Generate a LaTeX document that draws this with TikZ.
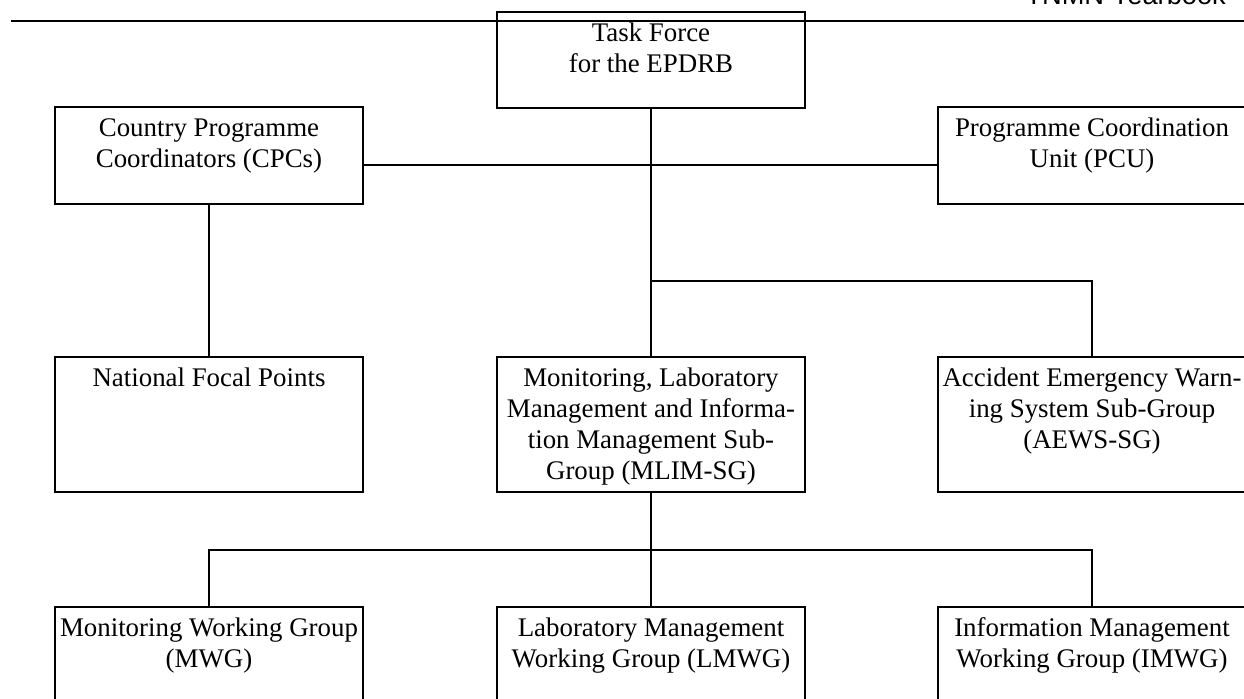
\documentclass[tikz,border=0pt]{standalone}
\usepackage{fontspec}
\setmainfont{Liberation Serif}
\newfontfamily\headfont{Liberation Sans}
\usepackage{tikz}
\newcommand{\unittext}[2]{\parbox[t][#1][t]{6.16cm}{\centering\rule{0pt}{0.59cm}#2}}
\tikzset{
    unit/.style={draw, line width=1.1pt, inner sep=0pt, outer sep=0pt, anchor=north,
        font=\fontsize{15.3pt}{17.6pt}\selectfont},
    link/.style={line width=1.1pt}
}

\begin{document}
\begin{tikzpicture}[x=0.02cm, y=-0.02cm]
            \useasboundingbox (0,0) rectangle (1244,698);
            \node[anchor=base east, font=\headfont\fontsize{15.5pt}{18pt}\selectfont] (head) at (1232,4) {TNMN Yearbook};
            \draw[line width=1.5pt] (11,21) -- (1244,21);
            \node[unit] (tf) at (651,12) {\unittext{1.92cm}{Task Force\\ for the EPDRB}};
            \node[unit] (cpc) at (209,107) {\unittext{1.94cm}{Country Programme\\ Coordinators (CPCs)}};
            \node[unit] (pcu) at (1092,107) {\unittext{1.94cm}{Programme Coordination\\ Unit (PCU)}};
            \node[unit] (nfp) at (209,357) {\unittext{2.7cm}{National Focal Points}};
            \node[unit] (mlim) at (651,357) {\unittext{2.7cm}{Monitoring, Laboratory\\ Management and Informa-\\ tion Management Sub-\\ Group (MLIM-SG)}};
            \node[unit] (aews) at (1092,357) {\unittext{2.7cm}{Accident Emergency Warn-\\ ing System Sub-Group\\ (AEWS-SG)}};
            \node[unit] (mwg) at (209,607) {\unittext{2.7cm}{Monitoring Working Group\\ (MWG)}};
            \node[unit] (lmwg) at (651,607) {\unittext{2.7cm}{Laboratory Management\\ Working Group (LMWG)}};
            \node[unit] (imwg) at (1092,607) {\unittext{2.7cm}{Information Management\\ Working Group (IMWG)}};
            \coordinate (hub) at (651,165);
            \coordinate (split) at (651,281);
            \coordinate (fork) at (651,550);
            \draw[link] (tf.south) -- (mlim.north);
            \draw[link] (hub -| cpc.east) -- (hub -| pcu.west);
            \draw[link] (split) -| (aews.north);
            \draw[link] (cpc.south) -- (nfp.north);
            \draw[link] (mlim.south) -- (lmwg.north);
            \draw[link] (mwg.north) -- (mwg.north |- fork) -- (imwg.north |- fork) -- (imwg.north);
          \end{tikzpicture}
\end{document}
